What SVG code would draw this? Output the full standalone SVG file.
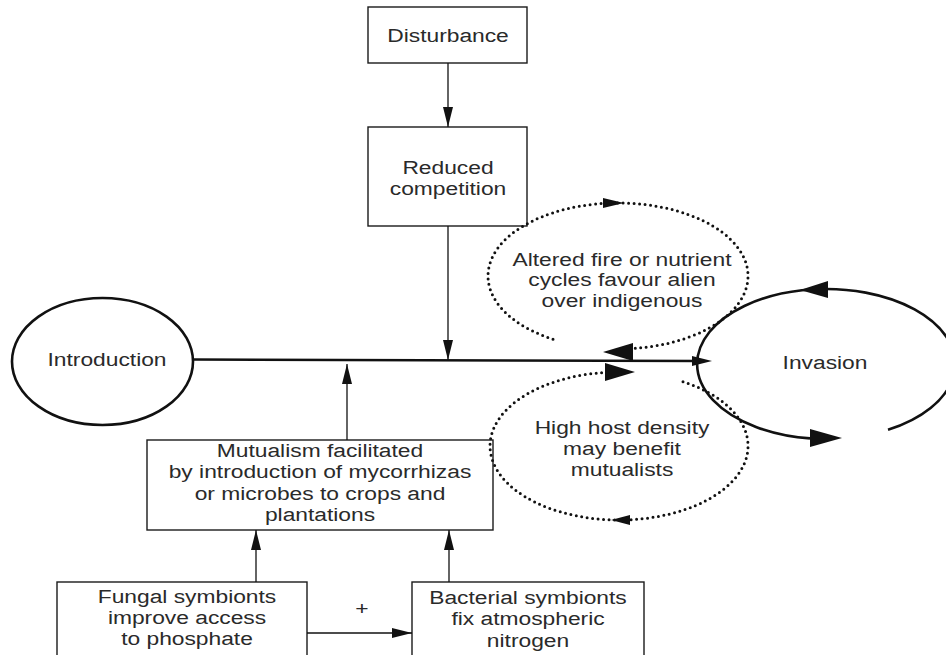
<svg xmlns="http://www.w3.org/2000/svg" width="946" height="655" viewBox="0 0 946 655">
<style>
.bg{fill:#fff}
.box{fill:none;stroke:#1a1a1a;stroke-width:1.4}
.oval{fill:none;stroke:#111;stroke-width:2.6}
.t{font-family:"Liberation Sans",Arial,sans-serif;font-size:19px;fill:#2a2a2a;text-anchor:middle}
.ln{fill:none;stroke:#111;stroke-width:1.3}
.main{fill:none;stroke:#111;stroke-width:2.6}
.dot{fill:none;stroke:#111;stroke-width:3;stroke-dasharray:0 5.5;stroke-linecap:round}
.head{fill:#111;stroke:none}
</style>
<defs>
<marker id="arr" markerUnits="userSpaceOnUse" markerWidth="20" markerHeight="10" refX="20" refY="5" orient="auto" viewBox="0 0 20 10">
<path d="M0,0 L20,5 L0,10 Z" fill="#111"/>
</marker>
</defs>
<rect class="bg" x="0" y="0" width="946" height="655"/>

<g id="disturbance">
<rect class="box" x="368" y="7" width="159" height="56"/>
<text class="t" transform="translate(448,42) scale(1.2,1)">Disturbance</text>
</g>

<g id="reduced-competition">
<rect class="box" x="368" y="127" width="159" height="99"/>
<text class="t" transform="translate(448,173.5) scale(1.2,1)"><tspan x="0" y="0">Reduced</tspan><tspan x="0" y="22">competition</tspan></text>
</g>

<g id="introduction">
<ellipse class="oval" cx="102.5" cy="361.5" rx="90.5" ry="63.5"/>
<text class="t" transform="translate(107,366) scale(1.2,1)">Introduction</text>
</g>

<g id="invasion">
<path class="oval" d="M888,429.8 A129,75 0 1,0 810,438.4"/>
<polygon class="head" points="842,438 810,429 810,447"/>
<polygon class="head" points="800,290 828,281 828,298"/>
<text class="t" transform="translate(825,369) scale(1.2,1)">Invasion</text>
</g>

<g id="altered-fire">
<path class="dot" d="M553,339.2 A130,73 0 1,1 633,348.5"/>
<polygon class="head" points="624,203 603,198 603,208"/>
<polygon class="head" points="603,352 633,343 633,361"/>
<text class="t" transform="translate(622,265.5) scale(1.2,1)"><tspan x="0" y="0">Altered fire or nutrient</tspan><tspan x="0" y="21">cycles favour alien</tspan><tspan x="0" y="42">over indigenous</tspan></text>
</g>

<g id="high-host-density">
<path class="dot" d="M683,381.7 A129,74 0 1,1 605,372.4"/>
<polygon class="head" points="635,372 605,363 605,381"/>
<polygon class="head" points="611,520 630,515 630,525"/>
<text class="t" transform="translate(622,434) scale(1.2,1)"><tspan x="0" y="0">High host density</tspan><tspan x="0" y="21">may benefit</tspan><tspan x="0" y="42">mutualists</tspan></text>
</g>

<g id="mutualism">
<rect class="box" x="147" y="440" width="346" height="90"/>
<text class="t" transform="translate(320,457) scale(1.2,1)"><tspan x="0" y="0">Mutualism facilitated</tspan><tspan x="0" y="21.4">by introduction of mycorrhizas</tspan><tspan x="0" y="42.8">or microbes to crops and</tspan><tspan x="0" y="64.2">plantations</tspan></text>
</g>

<g id="fungal-symbionts">
<rect class="box" x="57" y="582" width="250" height="80"/>
<text class="t" transform="translate(187,602.5) scale(1.2,1)"><tspan x="0" y="0">Fungal symbionts</tspan><tspan x="0" y="21.3">improve access</tspan><tspan x="0" y="42.6">to phosphate</tspan></text>
</g>

<g id="bacterial-symbionts">
<rect class="box" x="412" y="582" width="232" height="80"/>
<text class="t" transform="translate(528,603.5) scale(1.2,1)"><tspan x="0" y="0">Bacterial symbionts</tspan><tspan x="0" y="21.6">fix atmospheric</tspan><tspan x="0" y="43.2">nitrogen</tspan></text>
</g>

<g id="connectors">
<line class="ln" x1="448" y1="63" x2="448" y2="127" marker-end="url(#arr)"/>
<line class="ln" x1="448" y1="226" x2="448" y2="360" marker-end="url(#arr)"/>
<line class="ln" x1="347" y1="440" x2="347" y2="364" marker-end="url(#arr)"/>
<line class="ln" x1="256" y1="582" x2="256" y2="530" marker-end="url(#arr)"/>
<line class="ln" x1="449" y1="582" x2="449" y2="530" marker-end="url(#arr)"/>
<line class="ln" x1="307" y1="633" x2="412" y2="633" marker-end="url(#arr)"/>
<path class="main" d="M193,359.5 L700,361"/>
<polygon class="head" points="712,361 692,356 692,366"/>
<text class="t" transform="translate(362,615) scale(1.2,1)">+</text>
</g>
</svg>
